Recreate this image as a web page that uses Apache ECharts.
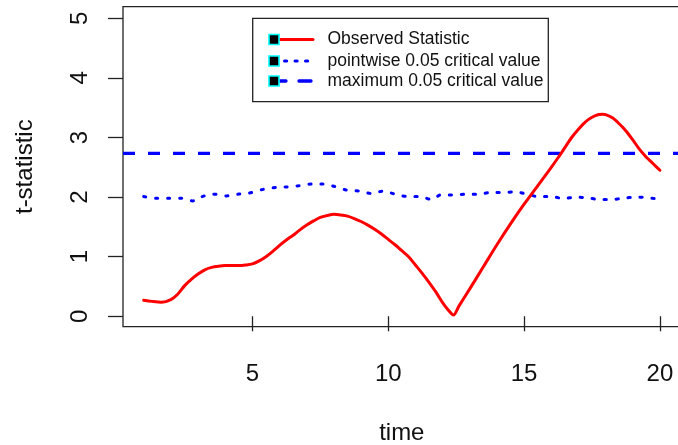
<!DOCTYPE html>
<html>
<head>
<meta charset="utf-8">
<script src="https://cdn.jsdelivr.net/npm/echarts@6/dist/echarts.min.js"></script>
<style>
  html, body { margin: 0; padding: 0; background: #fff; }
  #chart { width: 678px; height: 445px; }
</style>
</head>
<body>
<div id="chart"></div>
<script>
// Observed t-statistic over time
const obsTime = [1.0, 1.3, 1.65, 2.0, 2.25, 2.5, 2.75, 3.0, 3.25, 3.5, 3.75, 4.0, 4.25, 4.5, 4.75,
  5.0, 5.25, 5.5, 5.75, 6.0, 6.25, 6.5, 6.75, 7.0, 7.25, 7.5, 7.75, 8.0, 8.25, 8.5, 8.75,
  9.0, 9.25, 9.5, 9.75, 10.0, 10.25, 10.5, 10.75, 11.0, 11.25, 11.5, 11.75, 12.0, 12.2, 12.4,
  12.6, 13.0, 13.5, 14.0, 14.5, 15.0, 15.5, 16.0, 16.25, 16.5, 16.75, 17.0, 17.25, 17.5,
  17.75, 17.9, 18.0, 18.25, 18.5, 18.75, 19.0, 19.25, 19.5, 19.75, 20.0];
const obsValue = [0.27, 0.25, 0.235, 0.28, 0.37, 0.51, 0.62, 0.71, 0.78, 0.82, 0.84, 0.85, 0.85, 0.85, 0.86,
  0.88, 0.93, 1.00, 1.09, 1.19, 1.28, 1.36, 1.45, 1.53, 1.60, 1.66, 1.69, 1.71, 1.70, 1.68, 1.64,
  1.59, 1.53, 1.46, 1.38, 1.29, 1.20, 1.10, 1.00, 0.86, 0.72, 0.57, 0.41, 0.23, 0.11, 0.02,
  0.17, 0.46, 0.83, 1.20, 1.55, 1.88, 2.19, 2.50, 2.66, 2.83, 3.00, 3.14, 3.26, 3.34,
  3.385, 3.39, 3.385, 3.33, 3.23, 3.11, 2.96, 2.80, 2.67, 2.56, 2.45];

// Pointwise 0.05 critical value
const pwTime = [1.0, 1.45, 1.9, 2.4, 2.8, 3.1, 3.55, 4.05, 4.5, 4.9, 5.4, 5.9, 6.25, 6.7, 7.2, 7.6,
  8.05, 8.45, 8.95, 9.4, 9.8, 10.25, 10.7, 11.15, 11.6, 11.95, 12.4, 12.9, 13.3, 13.8, 14.25,
  14.65, 15.1, 15.5, 16.0, 16.45, 16.9, 17.35, 17.8, 18.2, 18.65, 19.1, 19.55, 20.0];
const pwValue = [2.01, 1.98, 1.98, 1.98, 1.935, 2.00, 2.05, 2.02, 2.05, 2.07, 2.13, 2.165, 2.17, 2.19, 2.22, 2.22,
  2.175, 2.12, 2.10, 2.06, 2.10, 2.05, 2.01, 2.01, 1.96, 2.04, 2.035, 2.05, 2.045, 2.08, 2.075,
  2.09, 2.05, 2.01, 2.01, 1.975, 2.00, 1.985, 1.96, 1.96, 1.98, 2.00, 1.99, 1.96];

// Maximum 0.05 critical value (constant over time)
const maxCritical = 2.735;

// Axis limits and tick labels
const xLimits = [0.238, 20.76];
const yLimits = [-0.175, 5.195];
const xTicks = [5, 10, 15, 20];
const yTicks = [0, 1, 2, 3, 4, 5];

const legendLabels = ['Observed Statistic', 'pointwise 0.05 critical value', 'maximum 0.05 critical value'];

const FONT = '"Liberation Sans", Arial, Helvetica, sans-serif';
const RED = '#ff0000';
const BLUE = '#0000ff';

const zip = (a, b) => a.map((v, i) => [v, b[i]]);

const chart = echarts.init(document.getElementById('chart'), null, { renderer: 'canvas' });

// Legend drawn as a boxed key with a marker square next to each line sample
const legendStyles = [
  { color: RED, dash: null, width: 3 },
  { color: BLUE, dash: [2.2, 8.3], width: 3 },
  { color: BLUE, dash: [12, 13], width: 3.3 }
];
const legendRowsY = [39.5, 61, 81];
const legendGraphics = [{
  type: 'rect',
  shape: { x: 252.7, y: 18.3, width: 295.6, height: 83.4 },
  style: { fill: '#fff', stroke: '#222', lineWidth: 1.3 },
  z: 10
}];
legendLabels.forEach((label, i) => {
  const y = legendRowsY[i];
  const st = legendStyles[i];
  legendGraphics.push({
    type: 'line',
    shape: { x1: 274, y1: y, x2: 313, y2: y },
    style: { stroke: st.color, lineWidth: st.width, lineDash: st.dash, lineCap: 'round' },
    z: 11
  });
  legendGraphics.push({
    type: 'rect',
    shape: { x: 269, y: y - 5, width: 10, height: 10 },
    style: { fill: '#000', stroke: '#00ffff', lineWidth: 1.6 },
    z: 12
  });
  legendGraphics.push({
    type: 'text',
    x: 327.5, y: y,
    style: { text: label, fill: '#111', font: '17.5px ' + FONT, textVerticalAlign: 'middle', textAlign: 'left' },
    z: 12
  });
});

const option = {
  animation: false,
  backgroundColor: '#fff',
  textStyle: { fontFamily: FONT },
  grid: {
    left: 123, width: 557.6, top: 6.7, height: 320,
    outerBoundsMode: 'none',
    show: true, borderColor: '#222', borderWidth: 1.3, backgroundColor: 'transparent'
  },
  xAxis: {
    type: 'value',
    min: xLimits[0], max: xLimits[1],
    axisLine: { show: false },
    splitLine: { show: false },
    axisTick: { customValues: xTicks, length: 15, lineStyle: { color: '#222', width: 1.3 } },
    axisLabel: { customValues: xTicks, fontSize: 24, color: '#111', margin: 36, fontFamily: FONT },
    name: 'time',
    nameLocation: 'middle',
    nameGap: 95,
    nameTextStyle: { fontSize: 24, color: '#111', fontFamily: FONT }
  },
  yAxis: {
    type: 'value',
    min: yLimits[0], max: yLimits[1],
    axisLine: { show: false },
    splitLine: { show: false },
    axisTick: { customValues: yTicks, length: 15, lineStyle: { color: '#222', width: 1.3 } },
    axisLabel: { customValues: yTicks, fontSize: 24, color: '#111', margin: 31, rotate: 90, fontFamily: FONT },
    name: 't-statistic',
    nameLocation: 'middle',
    nameGap: 86,
    nameTextStyle: { fontSize: 24, color: '#111', fontFamily: FONT }
  },
  series: [
    {
      name: legendLabels[2],
      type: 'line',
      data: [[xLimits[0], maxCritical], [xLimits[1], maxCritical]],
      showSymbol: false,
      lineStyle: { color: BLUE, width: 3.3, type: [12, 13], cap: 'butt' },
      z: 2
    },
    {
      name: legendLabels[1],
      type: 'line',
      data: zip(pwTime, pwValue),
      smooth: 0.3,
      showSymbol: false,
      lineStyle: { color: BLUE, width: 3, type: [2.2, 9.8], cap: 'round' },
      z: 3
    },
    {
      name: legendLabels[0],
      type: 'line',
      data: zip(obsTime, obsValue),
      smooth: 0.3,
      showSymbol: false,
      lineStyle: { color: RED, width: 3, cap: 'round', join: 'round' },
      z: 4
    }
  ],
  graphic: legendGraphics
};

chart.setOption(option);
</script>
</body>
</html>
